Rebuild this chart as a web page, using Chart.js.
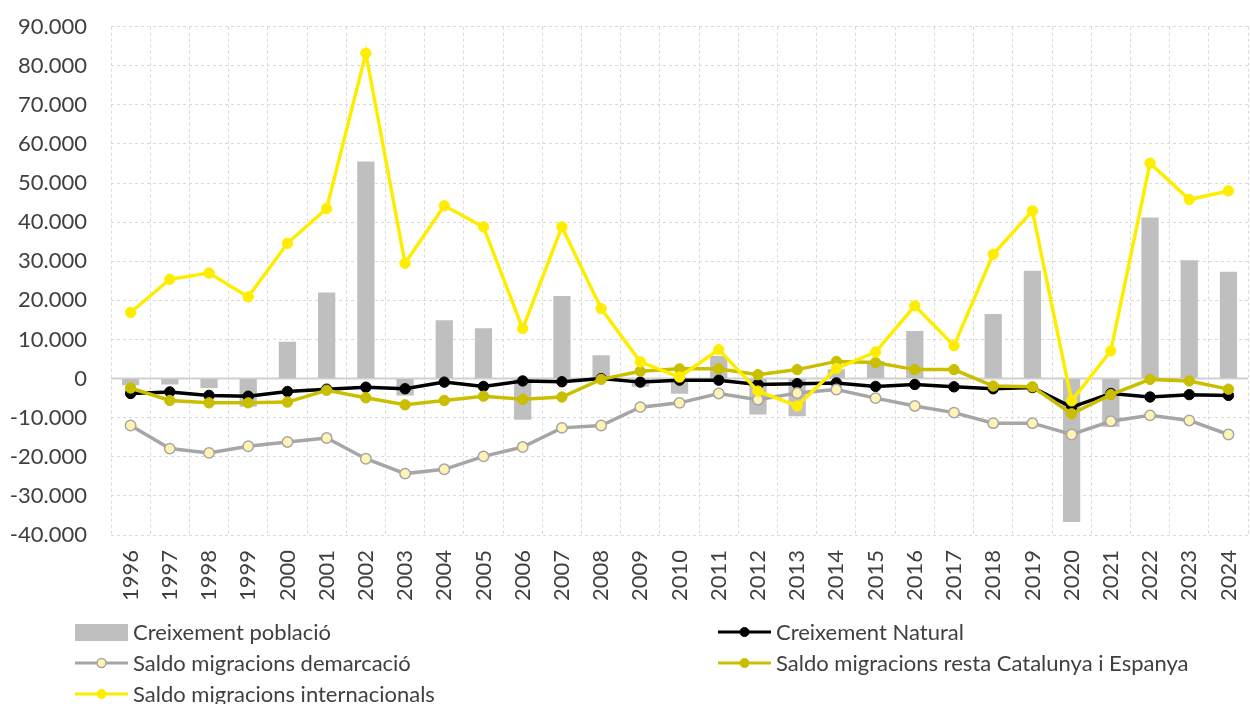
<!DOCTYPE html>
<html lang="ca">
<head>
<meta charset="utf-8">
<title>Creixement població</title>
<script src="https://cdn.jsdelivr.net/npm/chart.js@4.4.1/dist/chart.umd.min.js"></script>
<style>
  html, body { margin: 0; padding: 0; background: #fff; overflow: hidden; }
  #wrap { position: relative; width: 1270px; height: 704px; }
</style>
</head>
<body>
<div id="wrap"><canvas id="grafic"></canvas></div>
<script>
// dades llegides del gràfic original
const anys = ['1996','1997','1998','1999','2000','2001','2002','2003','2004','2005',
  '2006','2007','2008','2009','2010','2011','2012','2013','2014','2015',
  '2016','2017','2018','2019','2020','2021','2022','2023','2024'];

const creixementPoblacio = [-1700, -1500, -2400, -7200, 9400, 22000, 55500, -4300, 14900, 12900,
  -10500, 21100, 6000, -2100, -3900, 5800, -9200, -9600, 2400, 4500,
  12200, -100, 16500, 27600, -36700, -12300, 41200, 30300, 27300];

const creixementNatural = [-3800, -3400, -4300, -4500, -3300, -2700, -2200, -2600, -900, -2000,
  -600, -800, 0, -900, -400, -400, -1500, -1300, -1100, -2000,
  -1500, -2100, -2600, -2300, -7300, -3800, -4700, -4100, -4300];

const saldoDemarcacio = [-12000, -17900, -19000, -17300, -16200, -15200, -20500, -24300, -23200, -19900,
  -17500, -12600, -12000, -7300, -6200, -3800, -5400, -3700, -2800, -5000,
  -7000, -8700, -11400, -11400, -14300, -10900, -9400, -10700, -14300];

const saldoResta = [-2400, -5600, -6200, -6200, -6000, -3000, -4900, -6700, -5600, -4500,
  -5300, -4700, -200, 1900, 2500, 2500, 1000, 2300, 4400, 4100,
  2300, 2300, -1900, -2100, -9000, -4100, -200, -600, -2700];

const saldoInternacional = [16900, 25400, 27000, 20900, 34600, 43500, 83200, 29500, 44200, 38800,
  12800, 38800, 17900, 4300, 400, 7400, -3200, -7000, 2600, 6800,
  18600, 8400, 31800, 42900, -5700, 7100, 55100, 45800, 48000];

const textColor = '#404040';
const gridColor = '#d9d9d9';

// format amb punt de milers
function ambPunts(v) {
  const s = Math.abs(v).toString().replace(/\B(?=(\d{3})+(?!\d))/g, '.');
  return (v < 0 ? '-' : '') + s;
}

// línia del zero sòlida
const liniaZero = {
  id: 'liniaZero',
  beforeDatasetsDraw(chart) {
    const ctx = chart.ctx;
    const area = chart.chartArea;
    const y = chart.scales.y.getPixelForValue(0);
    ctx.save();
    ctx.strokeStyle = '#d0d0d0';
    ctx.lineWidth = 2;
    ctx.beginPath();
    ctx.moveTo(area.left, y);
    ctx.lineTo(area.right, y);
    ctx.stroke();
    ctx.restore();
  }
};

// llegenda a dues columnes, sota el gràfic
const llegenda = {
  id: 'llegenda',
  afterDraw(chart) {
    const ctx = chart.ctx;
    const llocs = [[75, 632], [718, 632], [75, 663], [718, 663], [75, 694]];
    ctx.save();
    chart.data.datasets.forEach((d, i) => {
      const [x, y] = llocs[i];
      if (d.type === 'bar') {
        ctx.fillStyle = d.backgroundColor;
        ctx.fillRect(x, y - 8, 53, 17);
      } else {
        ctx.strokeStyle = d.borderColor;
        ctx.lineWidth = 3;
        ctx.beginPath();
        ctx.moveTo(x, y);
        ctx.lineTo(x + 53, y);
        ctx.stroke();
        ctx.beginPath();
        ctx.arc(x + 26.5, y, 4.5, 0, Math.PI * 2);
        ctx.fillStyle = d.pointBackgroundColor;
        ctx.fill();
        ctx.lineWidth = d.pointBorderWidth;
        ctx.strokeStyle = d.pointBorderColor;
        ctx.stroke();
      }
      ctx.fillStyle = textColor;
      ctx.font = '22px Lato';
      ctx.textBaseline = 'middle';
      ctx.textAlign = 'left';
      ctx.fillText(d.label, x + 58, y + 1);
    });
    ctx.restore();
  }
};

function serieLinia(label, data, color, puntFons, puntVora, ordre, voraPunt) {
  return {
    type: 'line',
    label: label,
    data: data,
    borderColor: color,
    borderWidth: 3.5,
    pointRadius: 5.2,
    pointBackgroundColor: puntFons,
    pointBorderColor: puntVora,
    pointBorderWidth: voraPunt,
    tension: 0,
    order: ordre
  };
}

document.addEventListener('DOMContentLoaded', function() {
  const ctx = document.getElementById('grafic').getContext('2d');
  new Chart(ctx, {
    data: {
      labels: anys,
      datasets: [
        {
          type: 'bar',
          label: 'Creixement població',
          data: creixementPoblacio,
          backgroundColor: '#bfbfbf',
          categoryPercentage: 0.44,
          barPercentage: 1,
          order: 5
        },
        serieLinia('Creixement Natural', creixementNatural, '#000000', '#000000', '#000000', 4, 1),
        serieLinia('Saldo migracions demarcació', saldoDemarcacio, '#a6a6a6', '#fff4b3', '#a6a6a6', 3, 1.5),
        serieLinia('Saldo migracions resta Catalunya i Espanya', saldoResta, '#c9bf00', '#c9bf00', '#c9bf00', 2, 1),
        serieLinia('Saldo migracions internacionals', saldoInternacional, '#ffed00', '#ffed00', '#ffed00', 1, 1)
      ]
    },
    options: {
      responsive: true,
      maintainAspectRatio: false,
      animation: false,
      layout: { padding: { left: 0, right: 8.3, top: 26.7, bottom: 103 } },
      plugins: {
        legend: { display: false },
        tooltip: { enabled: false }
      },
      scales: {
        x: {
          grid: { color: gridColor, offset: true, drawTicks: false },
          border: { display: false, dash: [3, 3] },
          ticks: {
            maxRotation: 90,
            minRotation: 90,
            autoSkip: false,
            padding: 15,
            color: textColor,
            font: { family: 'Lato', size: 22 }
          },
          afterFit(scale) { scale.height = 66; }
        },
        y: {
          min: -40000,
          max: 90000,
          grid: { color: gridColor, drawTicks: false },
          border: { display: false, dash: [3, 3] },
          ticks: {
            stepSize: 10000,
            padding: 24,
            color: textColor,
            font: { family: 'Lato', size: 22 },
            callback: function(v) { return ambPunts(v); }
          },
          afterFit(scale) {
            scale.width = 111;
            // el padding de les etiquetes no ha de moure l'àrea del gràfic
            scale.paddingTop = 0;
            scale.paddingBottom = 0;
          }
        }
      }
    },
    plugins: [liniaZero, llegenda]
  });
});
</script>
</body>
</html>
